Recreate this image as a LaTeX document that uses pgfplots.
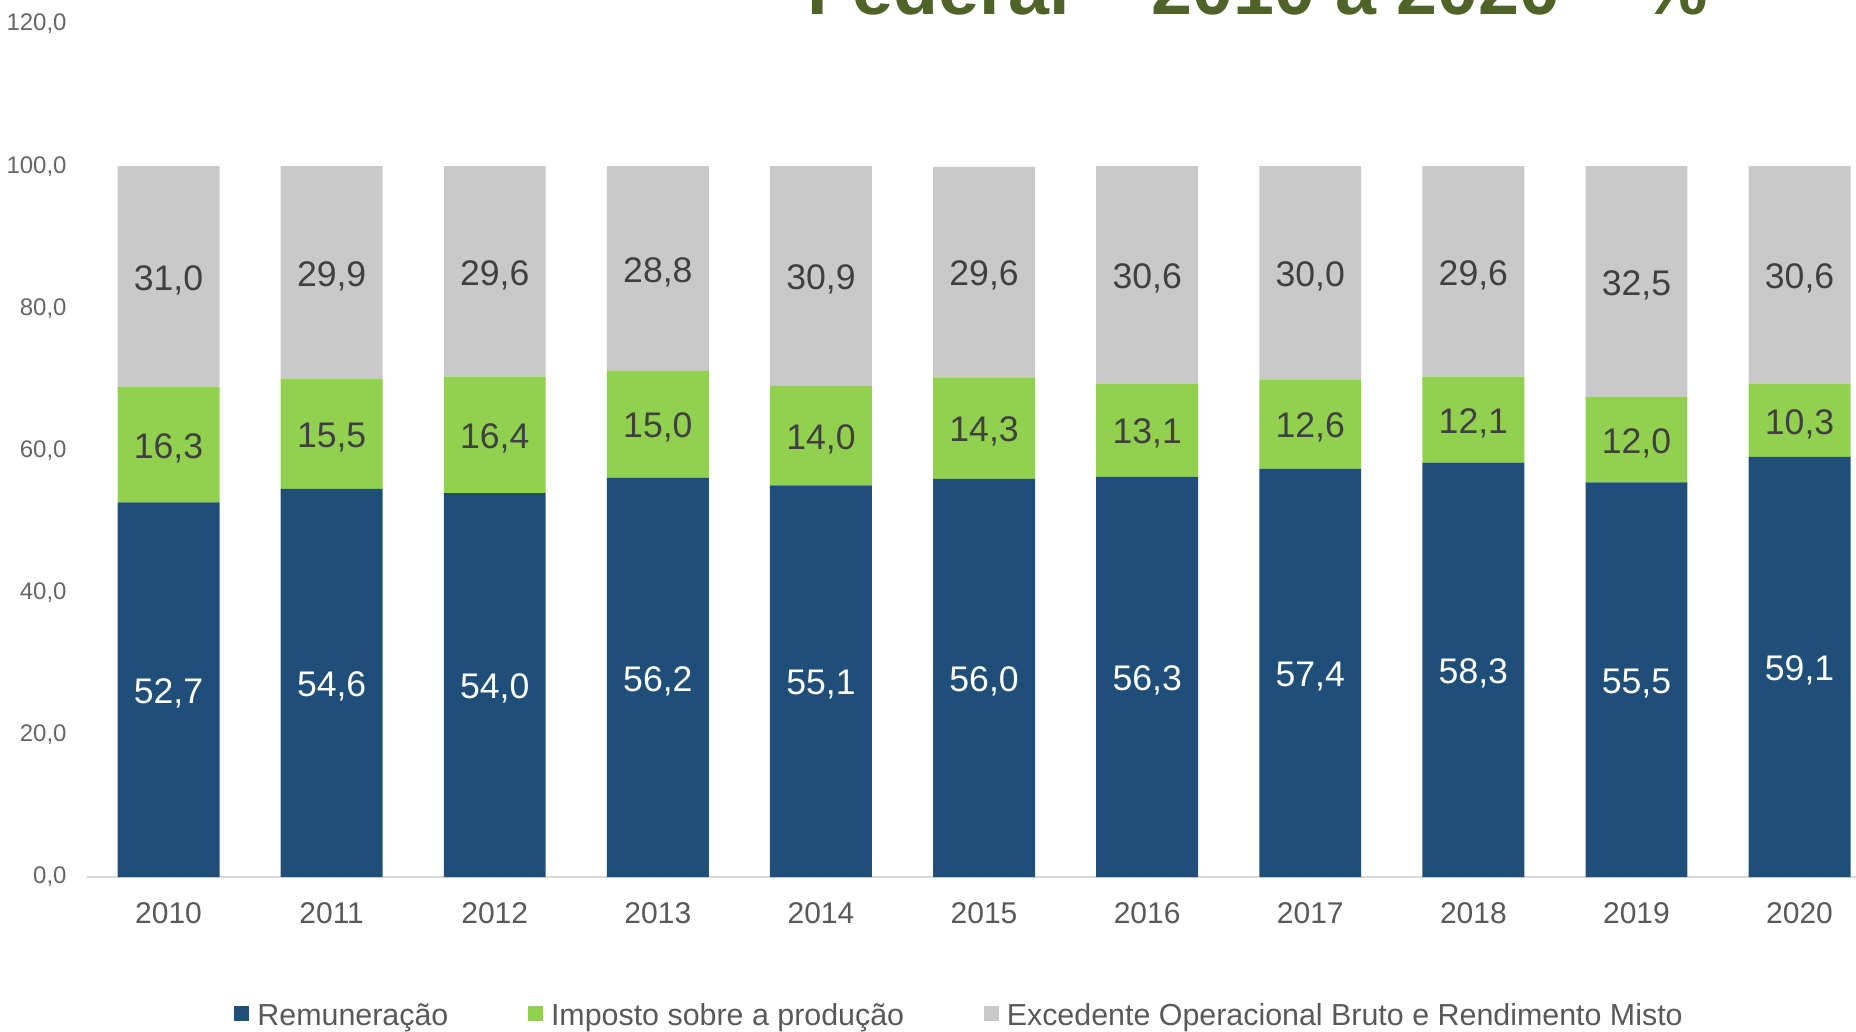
\documentclass[border=0pt]{standalone}
\usepackage{fontspec}
\setmainfont{Liberation Sans}
\usepackage{pgfplots}
\pgfplotsset{compat=1.18}
\definecolor{cblue}{HTML}{1F4E79}
\definecolor{cgreen}{HTML}{92D050}
\definecolor{cgray}{HTML}{C9C9C9}
\definecolor{ctitle}{HTML}{4F6228}
\definecolor{ctick}{HTML}{595959}
\definecolor{cytick}{HTML}{666666}
\definecolor{clab}{HTML}{404040}
\definecolor{caxis}{HTML}{D9D9D9}
\pgfplotsset{sqlegend/.style={legend image code/.code={\fill[##1,draw=none] (0pt,-0.8pt) rectangle (3.75pt,2.95pt);}}}
\begin{document}
\begin{tikzpicture}
\begin{axis}[
  at={(21.75pt,38.5pt)}, anchor=south west,
  scale only axis, width=442.25pt, height=213.25pt,
  ybar stacked, bar width=0.625,
  xmin=-0.5, xmax=10.346, ymin=0, ymax=120,
  xtick={0,1,2,3,4,5,6,7,8,9,10},
  xticklabels={2010,2011,2012,2013,2014,2015,2016,2017,2018,2019,2020},
  ytick={0,20,40,60,80,100,120},
  axis x line*=bottom, axis y line*=left,
  x axis line style={draw=caxis, line width=0.5pt},
  y axis line style={draw=none},
  major tick length=0pt, tick style={draw=none},
  /pgf/number format/assume math mode=true,
  yticklabel style={font=\fontsize{6}{7}\selectfont, text=cytick, anchor=east, inner sep=0pt, xshift=-4.9pt,
    /pgf/number format/.cd, fixed, fixed zerofill, precision=1, use comma},
  xticklabel style={font=\fontsize{7.5}{9}\selectfont, text=ctick, anchor=north, inner sep=0pt, yshift=-6.2pt},
  point meta=rawy,
  nodes near coords={\pgfmathprintnumber[fixed,fixed zerofill,precision=1,use comma,assume math mode=true]{\pgfplotspointmeta}},
  every node near coord/.append style={font=\fontsize{8.9}{10}\selectfont, anchor=center, yshift=-0.9pt},
  legend style={draw=none, fill=none, inner sep=0pt, at={(0.4927,-0.165)}, anchor=center,
    font=\fontsize{7.6}{9}\selectfont, text=ctick, nodes={inner sep=0pt},
    /tikz/every even column/.append style={column sep=19.9pt},
    /tikz/every odd column/.append style={column sep=2pt}},
  legend columns=3,
]
\addplot[fill=cblue, draw=none, sqlegend, every node near coord/.append style={text=white}] coordinates {
  (0,52.7) (1,54.6) (2,54.0) (3,56.2) (4,55.1) (5,56.0) (6,56.3) (7,57.4) (8,58.3) (9,55.5) (10,59.1)};
\addplot[fill=cgreen, draw=none, sqlegend, every node near coord/.append style={text=clab}] coordinates {
  (0,16.3) (1,15.5) (2,16.4) (3,15.0) (4,14.0) (5,14.3) (6,13.1) (7,12.6) (8,12.1) (9,12.0) (10,10.3)};
\addplot[fill=cgray, draw=none, sqlegend, every node near coord/.append style={text=clab}] coordinates {
  (0,31.0) (1,29.9) (2,29.6) (3,28.8) (4,30.9) (5,29.6) (6,30.6) (7,30.0) (8,29.6) (9,32.5) (10,30.6)};
\legend{Remuneração, Imposto sobre a produção, Excedente Operacional Bruto e Rendimento Misto}
\end{axis}
\node[anchor=base west, font=\bfseries\fontsize{18.4}{20}\selectfont, text=ctitle, inner sep=0pt] at (201.75pt,254.25pt) {Federal – 2010 a 2020 – \%};
\pgfresetboundingbox
\useasboundingbox (0,0) rectangle (464pt,257.75pt);
\end{tikzpicture}
\end{document}
